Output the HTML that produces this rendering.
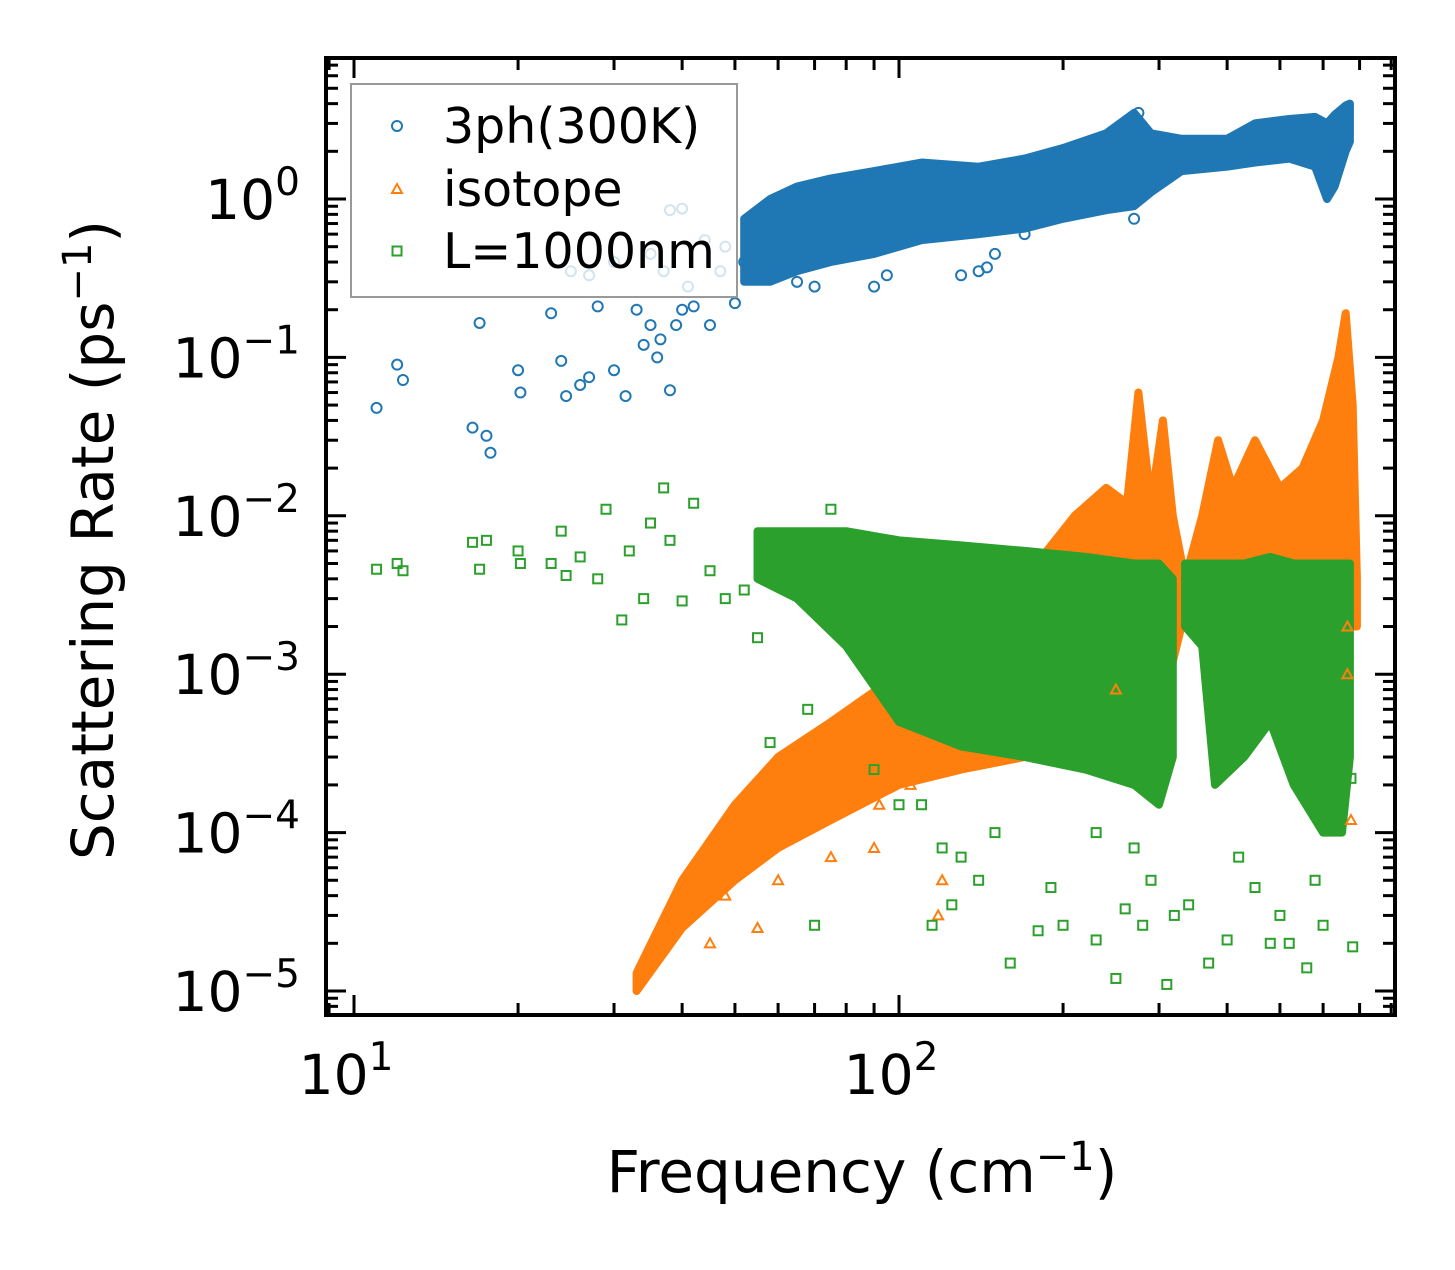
<!DOCTYPE html>
<html><head><meta charset="utf-8"><style>
body{margin:0;background:#fff}
svg text{font-family:"DejaVu Sans","Liberation Sans",sans-serif;fill:#000}
</style></head><body>
<svg id="chart" width="1455" height="1265" xmlns="http://www.w3.org/2000/svg">
<rect width="1455" height="1265" fill="#fff"/>
<g id="bands"></g>
<g id="points"></g>
<g id="axes"></g>
<g id="legend"></g>
<text x="862" y="1192" font-size="58" text-anchor="middle">Frequency (cm<tspan dy="-22" font-size="40">−1</tspan><tspan dy="22">)</tspan></text>
<text transform="translate(113,540) rotate(-90)" font-size="58" text-anchor="middle">Scattering Rate (ps<tspan dy="-22" font-size="40">−1</tspan><tspan dy="22">)</tspan></text>
</svg>
<script>
// Dense band envelopes: [frequency, low, high]
const blueBand=[[52,0.3,0.75],[58,0.3,1.0],[65,0.35,1.2],[75,0.4,1.35],[90,0.45,1.5],[110,0.55,1.7],[140,0.6,1.6],[170,0.65,1.8],[200,0.75,2.1],[240,0.85,2.6],[270,0.9,3.5],[290,1.1,2.6],[330,1.5,2.4],[400,1.6,2.4],[450,1.7,3.0],[520,1.8,3.2],[580,1.6,3.3],[610,1.0,3.0],[630,1.2,3.4],[660,2.0,3.9],[672,2.3,4.0]];
const orangeBand=[[33,1e-5,1.3e-5],[40,2.5e-5,5e-5],[50,5e-5,1.5e-4],[60,8e-5,3e-4],[75,1.2e-4,5e-4],[100,2e-4,1e-3],[130,2.5e-4,2e-3],[170,3e-4,4e-3],[210,4e-4,1e-2],[240,6e-4,1.5e-2],[262,8e-4,1.2e-2],[275,1e-3,6e-2],[290,1e-3,1.2e-2],[305,1e-3,4e-2],[318,1.2e-3,1e-2],[335,2.5e-3,4e-3],[360,2.5e-3,1e-2],[385,3e-3,3e-2],[410,3e-3,1.5e-2],[450,3e-3,3e-2],[500,3e-3,1.5e-2],[550,3e-3,2e-2],[600,3e-3,4e-2],[640,3e-3,0.1],[660,2e-3,0.19],[680,2e-3,0.05],[692,2e-3,4e-3]];
const greenBand=[[55,4e-3,8e-3],[65,3e-3,8e-3],[80,1.5e-3,8e-3],[100,5e-4,7e-3],[130,3.5e-4,6.5e-3],[170,3e-4,6e-3],[220,2.5e-4,5.5e-3],[270,2e-4,5e-3],[300,1.5e-4,5e-3],[318,3e-4,4e-3]];
const greenBand2=[[335,2e-3,5e-3],[360,1.5e-3,5e-3],[380,2e-4,5e-3],[430,3e-4,5e-3],[480,5e-4,5.5e-3],[530,2e-4,5e-3],[600,1e-4,5e-3],[650,1e-4,5e-3],[672,3e-4,5e-3]];
// Sparse points: [frequency, rate]
const bluePts=[[11,0.048],[12,0.09],[12.3,0.072],[16.5,0.036],[17,0.165],[17.5,0.032],[17.8,0.025],[20,0.083],[20.2,0.06],[23,0.19],[24,0.095],[24.5,0.057],[26,0.067],[27,0.075],[28,0.21],[30,0.083],[31.5,0.057],[33,0.2],[34,0.12],[35,0.16],[36,0.1],[36.5,0.13],[38,0.062],[39,0.16],[40,0.2],[42,0.21],[45,0.16],[50,0.22],[60,0.35],[65,0.3],[70,0.28],[90,0.28],[95,0.33],[130,0.33],[140,0.35],[145,0.37],[170,0.6],[270,0.75],[275,3.5],[150,0.45],[38,0.85],[40,0.87],[44,0.55],[35,0.45],[25,0.35],[30,0.4],[27,0.33],[41,0.28],[47,0.35],[48,0.5],[52,0.4],[37,0.35]];
const orangePts=[[40,2.8e-5],[45,2e-5],[48,4e-5],[55,2.5e-5],[60,5e-5],[65,1e-4],[75,7e-5],[90,8e-5],[92,1.5e-4],[118,3e-5],[120,5e-5],[105,2e-4],[675,1.2e-4],[665,1e-3],[250,8e-4],[665,2e-3]];
const greenPts=[[11,4.6e-3],[12,5e-3],[12.3,4.5e-3],[16.5,6.8e-3],[17,4.6e-3],[17.5,7e-3],[20,6e-3],[20.2,5e-3],[23,5e-3],[24,8e-3],[24.5,4.2e-3],[26,5.5e-3],[28,4e-3],[29,1.1e-2],[31,2.2e-3],[32,6e-3],[34,3e-3],[35,9e-3],[37,1.5e-2],[38,7e-3],[40,2.9e-3],[42,1.2e-2],[45,4.5e-3],[48,3e-3],[52,3.4e-3],[55,1.7e-3],[58,3.7e-4],[70,2.6e-5],[68,6e-4],[75,1.1e-2],[90,2.5e-4],[100,1.5e-4],[110,1.5e-4],[115,2.6e-5],[120,8e-5],[125,3.5e-5],[140,5e-5],[160,1.5e-5],[180,2.4e-5],[190,4.5e-5],[200,2.6e-5],[230,2.1e-5],[250,1.2e-5],[260,3.3e-5],[280,2.6e-5],[310,1.1e-5],[340,3.5e-5],[370,1.5e-5],[400,2.1e-5],[450,4.5e-5],[480,2e-5],[520,2e-5],[560,1.4e-5],[600,2.6e-5],[680,1.9e-5],[675,2.2e-4],[290,5e-5],[320,3e-5],[500,3e-5],[580,5e-5],[420,7e-5],[230,1e-4],[270,8e-5],[150,1e-4],[130,7e-5]];
const xTicks=[1,2];
const yTicks=[0,-1,-2,-3,-4,-5];

const L=326,R=1395,T=58,B=1015;
function X(f){return 354+(Math.log10(f)-1)*545;}
function Y(v){return 199-Math.log10(v)*158.4;}
const NS="http://www.w3.org/2000/svg";
function mk(tag,attrs,parent){const e=document.createElementNS(NS,tag);for(const k in attrs)e.setAttribute(k,attrs[k]);parent.appendChild(e);return e;}
const bands=document.getElementById('bands'),pts=document.getElementById('points'),axes=document.getElementById('axes'),leg=document.getElementById('legend');
const colors={b:'#1f77b4',o:'#ff7f0e',g:'#2ca02c'};
function band(arr,col,name){
  let d='M'+arr.map(a=>X(a[0]).toFixed(1)+','+Y(a[2]).toFixed(1)).join('L');
  d+='L'+arr.slice().reverse().map(a=>X(a[0]).toFixed(1)+','+Y(a[1]).toFixed(1)).join('L')+'Z';
  const p=mk('path',{d:d,fill:col,stroke:col,'stroke-width':8,'stroke-linejoin':'round'},bands);
  
  
}
function marker(type,x,y,col,parent){
  let e;
  if(type==='c')e=mk('circle',{cx:x,cy:y,r:5,fill:'none',stroke:col,'stroke-width':2},parent);
  else if(type==='t')e=mk('path',{d:`M${x},${y-5}L${x+5},${y+4}L${x-5},${y+4}Z`,fill:'none',stroke:col,'stroke-width':2},parent);
  else e=mk('rect',{x:x-4.5,y:y-4.5,width:9,height:9,fill:'none',stroke:col,'stroke-width':2},parent);
  return e;
}
band(orangeBand,colors.o,'isotope-band');
band(blueBand,colors.b,'3ph-band');
band(greenBand,colors.g,'boundary-band-low');
band(greenBand2,colors.g,'boundary-band-high');
bluePts.forEach(p=>{const e=marker('c',X(p[0]),Y(p[1]),colors.b,pts);

});
orangePts.forEach(p=>{const e=marker('t',X(p[0]),Y(p[1]),colors.o,pts);

});
greenPts.forEach(p=>{const e=marker('s',X(p[0]),Y(p[1]),colors.g,pts);

});

mk('rect',{x:L,y:T,width:R-L,height:B-T,fill:'none',stroke:'#000','stroke-width':4},axes);
for(let dec=0;dec<=2;dec++){for(let m=1;m<10;m++){const f=m*Math.pow(10,dec);const x=X(f);if(x<L||x>R)continue;const len=m===1?20:12;
mk('line',{x1:x,y1:B,x2:x,y2:B-len,stroke:'#000','stroke-width':3},axes);
mk('line',{x1:x,y1:T,x2:x,y2:T+len,stroke:'#000','stroke-width':3},axes);}}
xTicks.forEach(k=>{const t=mk('text',{x:X(Math.pow(10,k))-8,y:1094,'font-size':55,'text-anchor':'middle'},axes);t.innerHTML='10<tspan dy="-24" font-size="39">'+k+'</tspan>';

});
for(let dec=-6;dec<=0;dec++){for(let m=1;m<10;m++){const v=m*Math.pow(10,dec);const y=Y(v);if(y<T||y>B)continue;const len=m===1?20:12;
mk('line',{x1:L,y1:y,x2:L+len,y2:y,stroke:'#000','stroke-width':3},axes);
mk('line',{x1:R,y1:y,x2:R-len,y2:y,stroke:'#000','stroke-width':3},axes);}}
yTicks.forEach(k=>{const t=mk('text',{x:300,y:Y(Math.pow(10,k))+20,'font-size':55,'text-anchor':'end'},axes);t.innerHTML='10<tspan dy="-24" font-size="39">'+(k<0?'−'+(-k):k)+'</tspan>';

});

mk('rect',{x:351,y:84,width:386,height:213,fill:'#fff','fill-opacity':0.8,stroke:'#999','stroke-width':2},leg);
const legItems=[['c','3ph(300K)',colors.b,126],['t','isotope',colors.o,189],['s','L=1000nm',colors.g,251]];
legItems.forEach(it=>{marker(it[0],397,it[3],it[2],leg);const t=mk('text',{x:443,y:it[3]+17,'font-size':49},leg);t.textContent=it[1];

});
</script>
</body></html>
